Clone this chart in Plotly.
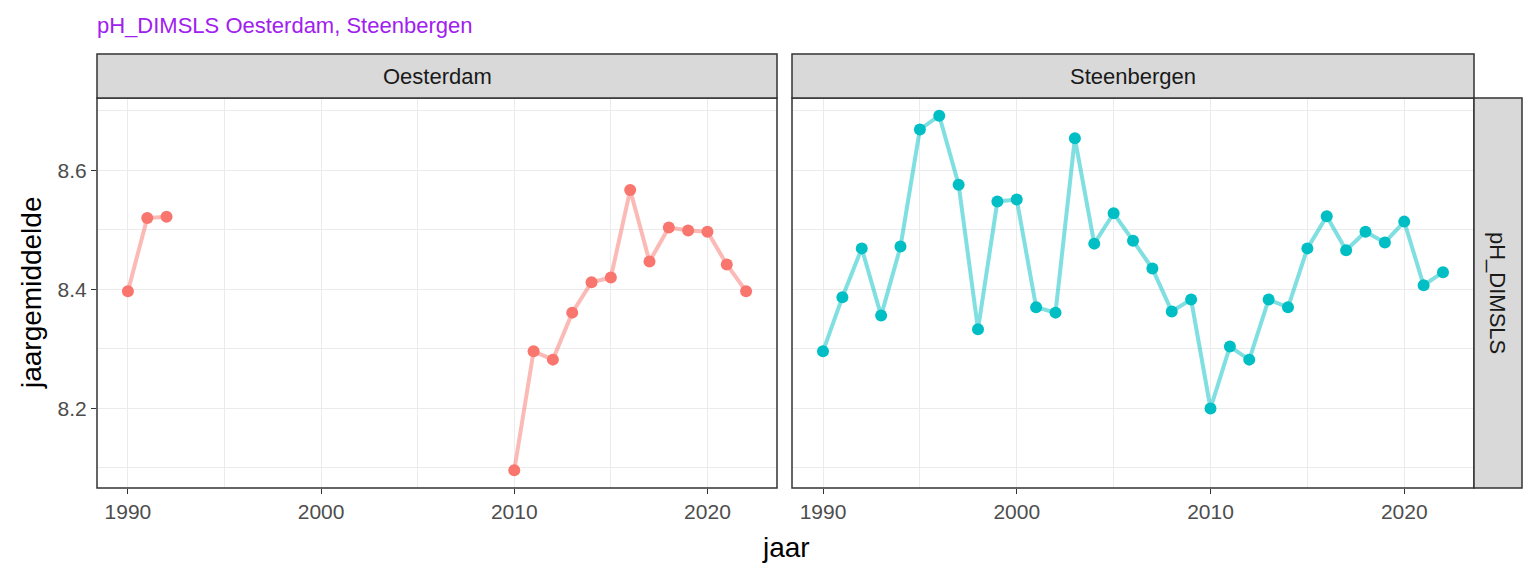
import plotly.graph_objects as go

# jaargemiddelde pH per locatie
jaren = list(range(1990, 2023))
oesterdam = [8.397, 8.520, 8.522] + [None] * 17 + [
    8.096, 8.296, 8.282, 8.361, 8.412, 8.420, 8.567, 8.447,
    8.504, 8.499, 8.497, 8.442, 8.397]
steenbergen = [8.296, 8.387, 8.469, 8.356, 8.472, 8.669, 8.692, 8.576,
               8.333, 8.548, 8.551, 8.370, 8.361, 8.654, 8.477, 8.528,
               8.482, 8.435, 8.363, 8.383, 8.200, 8.304, 8.282, 8.383,
               8.370, 8.469, 8.523, 8.466, 8.497, 8.479, 8.514, 8.407,
               8.429]
panels = ["Oesterdam", "Steenbergen"]
kleuren = ["#F8766D", "#00BFC4"]
lijnkleuren = ["rgba(248,118,109,0.5)", "rgba(0,191,196,0.5)"]

# pagina heeft 8px body-marge, dus figuur is iets kleiner
OFF = 8
W, H = 1536 - 2 * OFF, 576 - 2 * OFF
fx = lambda px: (px - OFF) / W
fy = lambda py: (H - (py - OFF)) / H

FONT = "Liberation Sans, Arial"

alle = [v for v in oesterdam + steenbergen if v is not None]
ymin, ymax = min(alle), max(alle)
pad = (ymax - ymin) * 0.05
xpad = (max(jaren) - min(jaren)) * 0.05

fig = go.Figure()
domeinen = [(97, 777), (792, 1474)]
reeksen = [oesterdam, steenbergen]

for i, (naam, waarden) in enumerate(zip(panels, reeksen)):
    xa = "x" if i == 0 else "x2"
    ya = "y" if i == 0 else "y2"
    fig.add_trace(go.Scatter(
        x=jaren, y=waarden, mode="lines", xaxis=xa, yaxis=ya,
        line=dict(color=lijnkleuren[i], width=4), connectgaps=False,
        showlegend=False, hoverinfo="skip"))
    fig.add_trace(go.Scatter(
        x=jaren, y=waarden, mode="markers", xaxis=xa, yaxis=ya,
        marker=dict(color=kleuren[i], size=12), showlegend=False, name=naam))

as_stijl = dict(
    showgrid=True, gridcolor="#EBEBEB", gridwidth=1.3, zeroline=False,
    ticks="outside", ticklen=5, tickcolor="#333333", tickwidth=1.3,
    tickfont=dict(family=FONT, size=21, color="#4D4D4D"),
    showline=False)

x_ext = dict(range=[min(jaren) - xpad, max(jaren) + xpad],
             tickvals=[1990, 2000, 2010, 2020],
             minor=dict(tickvals=[1995, 2005, 2015], showgrid=True,
                        gridcolor="#EBEBEB", gridwidth=0.7, ticks=""))
y_ext = dict(range=[ymin - pad, ymax + pad], tickvals=[8.2, 8.4, 8.6],
             minor=dict(tickvals=[8.1, 8.3, 8.5, 8.7], showgrid=True,
                        gridcolor="#EBEBEB", gridwidth=0.7, ticks=""))

yd = [fy(488), fy(98)]
fig.update_layout(
    width=W, height=H, margin=dict(l=0, r=0, t=0, b=0),
    paper_bgcolor="white", plot_bgcolor="white",
    xaxis=dict(domain=[fx(97), fx(777)], anchor="y", **as_stijl, **x_ext),
    xaxis2=dict(domain=[fx(792), fx(1474)], anchor="y2", **as_stijl, **x_ext),
    yaxis=dict(domain=yd, anchor="x", **as_stijl, **y_ext),
    yaxis2=dict(domain=yd, anchor="x2", matches="y", showticklabels=False,
                **{k: v for k, v in as_stijl.items() if k != "ticks"}, ticks="", **y_ext),
)

rand = dict(color="#333333", width=1.5)
shapes = []
annotations = []
for i, (x0, x1) in enumerate(domeinen):
    # paneelrand
    shapes.append(dict(type="rect", xref="paper", yref="paper",
                       x0=fx(x0), x1=fx(x1), y0=fy(488), y1=fy(98),
                       line=rand, fillcolor="rgba(0,0,0,0)", layer="above"))
    # strip bovenaan
    shapes.append(dict(type="rect", xref="paper", yref="paper",
                       x0=fx(x0), x1=fx(x1), y0=fy(98), y1=fy(54),
                       line=rand, fillcolor="#D9D9D9"))
    annotations.append(dict(text=panels[i], xref="paper", yref="paper",
                            x=(fx(x0) + fx(x1)) / 2, y=(fy(98) + fy(54)) / 2,
                            showarrow=False, xanchor="center", yanchor="middle",
                            font=dict(family=FONT, size=22, color="#1A1A1A")))

# strip rechts
shapes.append(dict(type="rect", xref="paper", yref="paper",
                   x0=fx(1474), x1=fx(1522), y0=fy(488), y1=fy(98),
                   line=rand, fillcolor="#D9D9D9"))
annotations.append(dict(text="pH_DIMSLS", xref="paper", yref="paper",
                        x=(fx(1474) + fx(1522)) / 2, y=(fy(488) + fy(98)) / 2,
                        textangle=90, showarrow=False, xanchor="center", yanchor="middle",
                        font=dict(family=FONT, size=22, color="#1A1A1A")))

annotations.append(dict(text="pH_DIMSLS Oesterdam, Steenbergen", xref="paper", yref="paper",
                        x=fx(95), y=fy(25), showarrow=False, xanchor="left", yanchor="middle",
                        font=dict(family=FONT, size=22, color="#A020F0")))
annotations.append(dict(text="jaar", xref="paper", yref="paper",
                        x=(fx(97) + fx(1474)) / 2, y=fy(547), showarrow=False,
                        xanchor="center", yanchor="middle",
                        font=dict(family=FONT, size=28, color="black")))
annotations.append(dict(text="jaargemiddelde", xref="paper", yref="paper",
                        x=fx(31), y=(fy(488) + fy(98)) / 2, textangle=-90, showarrow=False,
                        xanchor="center", yanchor="middle",
                        font=dict(family=FONT, size=28, color="black")))

fig.update_layout(shapes=shapes, annotations=annotations)
fig.write_html("out.html")
